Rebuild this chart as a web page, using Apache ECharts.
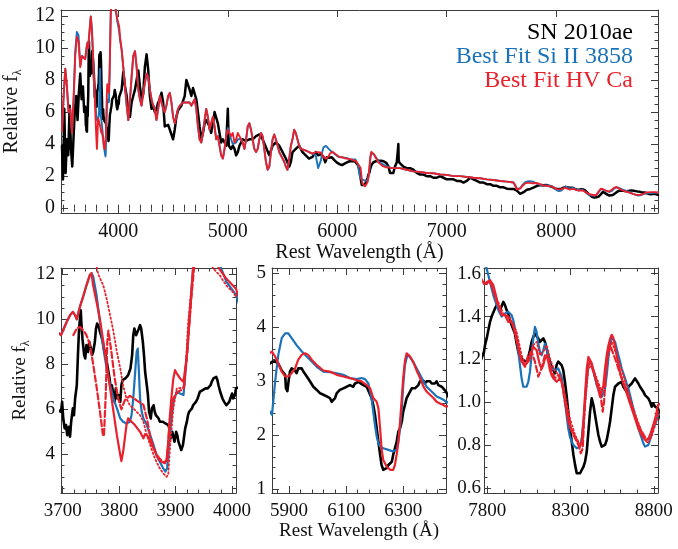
<!DOCTYPE html>
<html><head><meta charset="utf-8">
<script src="https://cdn.jsdelivr.net/npm/echarts@6/dist/echarts.min.js"></script>
<style>html,body{margin:0;padding:0;background:#fff}#c{width:678px;height:549px}</style>
</head><body><div id="c"></div>
<script>
// ---------- DATA (wavelength in Angstrom, relative flux) ----------
const snData = [
[3485,3.9],[3494,1.8],[3506,6.2],[3518,2.2],[3530,4.3],[3542,3.3],[3555,6.4],[3567,3.7],[3579,2.6],[3591,4.5],[3603,6.2],[3615,7.0],[3627,5.5],[3639,7.2],[3652,8.4],[3664,6.8],[3676,7.6],[3688,6.0],
[3697,5.89],[3699,6.33],[3701,5.59],[3703.5,5.15],[3706,5.3],[3708,4.85],[3711,5.22],[3713,4.78],[3715,5.45],[3718,6.04],[3720,5.74],[3722,6.48],[3725,7.07],[3727,8.41],[3729,9.59],[3732,10.4],[3733,9.88],[3735,9.14],[3738,8.41],[3740,8.26],[3742,8.85],[3745,8.55],[3747,9.0],[3750,8.7],[3752,8.41],[3754,8.55],[3757,9.0],[3759,9.59],[3761,9.81],[3764,9.66],[3766,9.44],[3768,9.29],[3771,9.0],[3773,8.7],[3776,8.41],[3778,8.11],[3780,7.81],[3783,7.37],[3785,6.93],[3787,7.07],[3790,6.63],[3792,6.33],[3794,6.93],[3797,6.48],[3799,6.63],[3802,6.33],[3804,7.07],[3806,7.3],[3809,7.3],[3811,7.37],[3813,7.44],[3816,7.52],[3818,7.67],[3820,7.81],[3823,8.41],[3825,9.29],[3827,9.59],[3830,9.29],[3832,9.37],[3835,9.59],[3837,9.74],[3839,9.59],[3842,9.0],[3844,8.41],[3846,7.67],[3849,7.07],[3851,6.63],[3853,5.89],[3856,5.59],[3858,6.04],[3861,6.18],[3863,5.89],[3865,5.74],[3868,5.74],[3870,5.59],[3872,5.45],[3875,5.5],[3877,5.45],[3879,5.37],[3882,5.37],[3884,5.37],[3887,5.3],[3889,5.15],[3891,4.71],[3894,5.0],[3896,4.78],[3898,4.56],[3901,5.0],[3903,4.85],[3905,4.56],[3908,4.49],[3910,4.19],[3913,4.41],[3915,4.78],[3917,5.15],[3920,5.45],[3922,5.74],[3924,5.89],[3927,5.89],[3929,6.04],[3931,6.18],[3934,6.18],[3936,6.33],[3939,6.48],[3941,6.63],[3943,6.78],[3946,6.78],[3948,6.85],[3950,6.85],[3953,6.93],[3955,6.85],[3957,6.93],[3960,7.0],[3962,7.07],[3964,7.22],[3967,7.37],[3969,7.44],[3972,7.44],[3974,7.3],[3976,7.07],[3979,6.78],[3981,6.78],[3983,6.48],[3986,6.33],[3988,6.25],[3990,6.18],[3993,6.1],[3995,6.33],[3997,6.48],[4000,6.7],[4002,6.48],[4005,6.63],[4007,6.93],
[4015,7.0],[4030,7.4],[4045,8.5],[4061,7.6],[4076,7.0],[4091,6.0],[4106,5.7],[4121,6.6],[4136,7.0],[4152,7.4],[4167,8.0],[4182,8.6],[4197,7.6],[4212,6.8],[4227,7.1],[4242,8.8],[4258,9.6],[4273,8.6],[4288,7.0],[4303,6.2],[4318,6.4],[4333,6.0],[4348,6.2],[4364,6.6],[4379,6.8],[4394,7.2],[4409,6.6],[4424,5.1],[4439,5.0],[4455,5.2],[4470,4.9],[4485,4.6],[4500,4.3],[4515,4.9],[4530,5.7],[4545,6.1],[4561,6.0],[4576,6.4],[4591,6.3],[4606,7.0],[4621,8.0],[4636,7.9],[4651,7.4],[4667,7.0],[4682,7.5],[4697,7.4],[4712,6.8],[4727,6.0],[4742,5.1],[4758,4.3],[4773,4.7],[4788,5.3],[4803,5.5],[4818,5.5],[4833,5.1],[4848,4.7],[4864,5.3],[4879,6.0],[4894,6.1],[4909,5.3],[4924,4.7],[4939,4.1],[4955,4.3],[4970,4.1],[4985,3.9],[5000,6.2],[5009,3.9],[5030,3.7],[5045,3.9],[5061,3.7],[5076,3.3],[5091,3.5],[5106,3.9],[5121,4.1],[5136,4.3],[5167,4.2],[5197,4.3],[5227,4.3],[5258,4.5],[5288,4.6],[5318,4.3],[5348,3.8],[5379,3.3],[5394,3.6],[5409,3.9],[5439,4.1],[5470,3.9],[5500,3.5],[5530,3.1],[5561,2.6],[5576,2.9],[5591,3.5],[5621,3.7],[5652,3.9],[5682,3.5],[5712,3.3],[5742,3.1],[5773,3.2],[5803,3.5],[5825,3.3],
[5840,3.36],[5851,3.37],[5862,3.33],[5868,3.3],[5874,3.2],[5880,3.2],[5886,3.12],[5889,2.87],[5894,2.82],[5898,3.0],[5903,3.18],[5909,3.24],[5915,3.24],[5921,3.2],[5926,3.15],[5932,3.24],[5938,3.27],[5944,3.24],[5950,3.18],[5962,3.09],[5973,3.0],[5985,2.9],[5997,2.84],[6008,2.78],[6020,2.75],[6032,2.72],[6043,2.69],[6049,2.62],[6055,2.62],[6061,2.69],[6067,2.78],[6078,2.84],[6090,2.87],[6102,2.9],[6113,2.93],[6125,2.9],[6131,2.96],[6137,2.93],[6143,2.99],[6149,2.96],[6160,2.93],[6172,2.9],[6178,2.93],[6189,2.69],[6195,2.56],[6201,2.38],[6207,2.13],[6213,1.88],[6219,1.64],[6224,1.45],[6230,1.36],[6236,1.33],[6242,1.39],[6248,1.45],[6254,1.48],[6260,1.51],[6265,1.64],[6271,1.76],[6277,1.88],[6283,2.07],[6289,2.13],[6295,2.25],[6300,2.44],[6306,2.56],[6312,2.69],[6318,2.75],[6324,2.81],[6330,2.87],[6335,2.88],[6341,2.87],[6347,2.9],[6353,2.93],[6359,3.0],[6365,3.02],[6371,3.01],[6376,2.96],[6382,3.0],[6388,3.01],[6394,3.0],[6400,2.96],[6406,2.93],[6411,2.96],[6417,3.0],[6423,2.93],[6429,2.9],[6435,2.9],[6441,2.87],[6450,2.81],
[6466,2.63],[6482,2.2],[6512,2.2],[6527,2.6],[6543,2.85],[6552,3.5],[6558,4.0],[6561,3.0],[6567,2.85],[6579,2.85],[6604,2.6],[6634,2.5],[6665,2.5],[6695,2.4],[6726,2.2],[6756,2.1],[6787,2.1],[6817,2.0],[6848,2.0],[6878,1.9],[6909,1.9],[6939,2.0],[6970,1.9],[7000,1.8],[7031,1.8],[7061,1.8],[7092,1.7],[7122,1.7],[7153,1.6],[7168,1.5],[7183,1.7],[7214,1.9],[7244,1.8],[7275,1.7],[7305,1.6],[7336,1.6],[7366,1.5],[7397,1.5],[7427,1.4],[7458,1.4],[7488,1.3],[7519,1.3],[7549,1.22],[7580,1.2],[7610,1.2],[7641,1.1],[7671,0.9],[7702,1.0],[7732,1.15],[7763,1.2],
[7780,1.236],[7786,1.267],[7796,1.298],[7806,1.336],[7816,1.375],[7826,1.40],[7836,1.40],[7846,1.437],[7856,1.453],[7866,1.445],[7876,1.43],[7886,1.437],[7896,1.468],[7906,1.453],[7916,1.43],[7926,1.414],[7936,1.383],[7946,1.36],[7956,1.352],[7966,1.32],[7976,1.274],[7986,1.236],[7996,1.212],[8006,1.205],[8016,1.197],[8026,1.197],[8036,1.19],[8046,1.212],[8056,1.243],[8066,1.282],[8076,1.305],[8086,1.32],[8096,1.313],[8106,1.298],[8116,1.282],[8126,1.274],[8136,1.298],[8146,1.282],[8156,1.251],[8166,1.22],[8176,1.19],[8186,1.166],[8196,1.158],[8206,1.135],[8216,1.174],[8226,1.19],[8236,1.182],[8246,1.174],[8256,1.15],[8266,1.096],[8276,1.034],[8286,0.957],[8296,0.879],[8307,0.817],[8317,0.755],[8327,0.709],[8337,0.67],[8347,0.662],[8357,0.67],[8367,0.685],[8377,0.70],[8387,0.724],[8397,0.77],[8407,0.864],[8417,0.957],[8427,1.019],[8437,0.988],[8447,0.941],[8457,0.894],[8467,0.848],[8477,0.817],[8487,0.794],[8497,0.794],[8507,0.802],[8517,0.825],[8527,0.864],[8537,0.91],[8547,0.972],[8557,1.034],[8567,1.073],[8577,1.08],[8587,1.088],[8597,1.08],[8607,1.096],[8617,1.073],[8627,1.065],[8637,1.05],[8647,1.073],[8657,1.065],[8667,1.088],[8677,1.096],[8687,1.112],[8697,1.104],[8707,1.088],[8717,1.073],[8727,1.065],[8737,1.05],[8747,1.034],[8757,1.034],[8767,1.019],[8777,1.003],[8787,0.98],[8797,0.995],[8807,0.98],[8817,0.988],[8825,0.972],
[8860,0.87],[8900,0.9],[8930,0.83]
];

const siFit = [
[3485,4.8],[3500,7.0],[3515,8.7],[3530,7.6],[3545,6.0],[3561,6.2],[3576,4.7],[3591,6.8],[3606,9.8],[3621,11.0],[3636,10.8],[3652,8.9],[3667,9.5],[3682,9.6],
[3697,9.3],[3707,9.88],[3713,10.18],[3718,10.33],[3722,10.18],[3725,10.0],[3731,10.6],[3737,11.07],[3742,11.5],[3748,11.96],[3751,12.05],[3754,11.9],[3760,11.07],[3766,9.88],[3772,8.7],[3778,7.81],[3784,7.07],[3790,6.48],[3796,6.04],[3802,5.59],[3807,5.45],[3813,5.37],[3819,5.45],[3822,5.74],[3825,6.48],[3828,7.52],[3831,8.55],[3833,8.7],[3835,7.67],[3837,6.48],[3840,5.89],[3843,5.59],[3849,5.3],[3855,4.85],[3861,4.41],[3866,3.97],[3872,3.67],[3878,3.38],[3882,3.23],[3885,3.38],[3890,5.0],[3896,6.33],[3902,6.78],[3908,6.7],[3914,6.63],[3917,6.7],[3920,8.41],[3926,10.6],[3931,12.25],[3937,13.0],[3967,13.0],[3981,12.25],[3990,11.66],[3999,11.36],[4007,11.07],
[4015,10.5],[4030,9.9],[4045,8.8],[4061,7.6],[4076,6.4],[4091,5.5],[4106,6.8],[4121,8.2],[4136,9.5],[4152,9.8],[4167,8.8],[4182,7.4],[4197,6.8],[4212,6.4],[4227,7.2],[4242,7.8],[4258,8.4],[4273,8.2],[4288,7.4],[4303,6.8],[4318,6.4],[4333,6.2],[4348,5.5],[4364,6.2],[4379,7.0],[4394,6.6],[4409,6.2],[4424,6.0],[4439,6.4],[4455,7.0],[4470,7.2],[4485,6.6],[4500,5.7],[4515,5.3],[4530,5.7],[4545,6.2],[4561,6.4],[4591,6.6],[4621,6.6],[4636,6.7],[4651,6.6],[4667,6.4],[4682,6.6],[4697,6.8],[4712,6.2],[4727,5.1],[4742,4.3],[4758,4.1],[4773,4.7],[4788,5.5],[4803,6.2],[4818,5.7],[4833,4.9],[4848,5.3],[4864,5.7],[4879,5.1],[4894,4.3],[4909,4.5],[4924,3.9],[4939,3.3],[4955,3.1],[4970,3.7],[4985,4.5],[5000,5.0],[5015,4.9],[5030,4.3],[5045,4.0],[5061,3.9],[5076,4.1],[5091,4.3],[5106,4.4],[5121,4.3],[5136,4.1],[5152,3.7],[5167,4.3],[5182,5.1],[5197,5.3],[5212,4.9],[5227,4.3],[5242,3.7],[5258,3.5],[5273,3.7],[5288,4.3],[5303,4.7],[5318,4.5],[5333,3.7],[5348,2.9],[5364,2.4],[5379,2.6],[5394,3.5],[5409,4.3],[5424,4.6],[5439,4.3],[5455,3.9],[5470,3.5],[5485,3.3],[5500,3.1],[5515,2.9],[5530,2.6],[5545,2.4],[5561,3.1],[5576,3.9],[5591,4.3],[5606,4.9],[5621,4.7],[5636,4.3],[5652,3.9],[5667,3.7],[5682,3.6],[5712,3.6],[5742,3.5],[5773,3.4],[5803,3.3],[5825,2.5],
[5840,2.38],[5851,3.0],[5862,3.49],[5874,3.8],[5886,3.89],[5891,3.92],[5897,3.89],[5909,3.8],[5926,3.67],[5950,3.52],[5973,3.4],[5997,3.27],[6020,3.18],[6043,3.17],[6067,3.15],[6090,3.12],[6113,3.06],[6137,3.04],[6154,3.06],[6166,3.04],[6178,2.96],[6189,2.69],[6195,2.44],[6201,2.19],[6207,1.98],[6213,1.85],[6219,1.79],[6230,1.76],[6248,1.73],[6265,1.7],[6277,1.73],[6283,1.88],[6289,2.13],[6295,2.5],[6300,2.93],[6306,3.3],[6312,3.43],[6318,3.49],[6324,3.46],[6335,3.36],[6347,3.24],[6359,3.12],[6371,3.0],[6382,2.9],[6394,2.84],[6406,2.78],[6417,2.72],[6429,2.69],[6441,2.66],[6450,2.62],
[6466,2.6],[6497,2.5],[6527,2.5],[6573,2.5],[6634,2.4],[6695,2.3],[6756,2.26],[6817,2.2],[6878,2.18],[6939,2.1],[7000,2.08],[7061,2.0],[7122,2.0],[7183,1.95],[7244,1.9],[7305,1.87],[7366,1.8],[7427,1.76],[7488,1.7],[7549,1.66],[7610,1.6],[7625,1.45],[7641,1.2],[7656,1.2],[7671,1.25],[7686,1.4],[7717,1.62],[7747,1.68],
[7780,1.67],[7796,1.623],[7806,1.592],[7816,1.561],[7826,1.53],[7836,1.50],[7846,1.476],[7856,1.453],[7866,1.43],[7876,1.414],[7886,1.40],[7896,1.406],[7906,1.414],[7916,1.422],[7926,1.422],[7936,1.414],[7946,1.406],[7956,1.383],[7966,1.344],[7976,1.298],[7986,1.236],[7996,1.174],[8006,1.112],[8016,1.073],[8026,1.065],[8036,1.073],[8046,1.096],[8056,1.143],[8066,1.22],[8076,1.298],[8086,1.352],[8096,1.329],[8106,1.274],[8116,1.236],[8126,1.22],[8136,1.243],[8146,1.274],[8156,1.267],[8166,1.22],[8176,1.174],[8186,1.158],[8196,1.158],[8206,1.15],[8216,1.15],[8226,1.158],[8236,1.15],[8246,1.12],[8256,1.065],[8266,1.003],[8276,0.941],[8286,0.879],[8296,0.84],[8307,0.817],[8317,0.802],[8327,0.794],[8337,0.786],[8347,0.786],[8357,0.794],[8367,0.833],[8377,0.91],[8387,1.003],[8397,1.096],[8407,1.174],[8417,1.19],[8427,1.174],[8437,1.143],[8447,1.112],[8457,1.08],[8467,1.065],[8477,1.05],[8487,1.026],[8497,1.034],[8507,1.065],[8517,1.127],[8527,1.205],[8537,1.267],[8547,1.305],[8557,1.298],[8567,1.282],[8577,1.251],[8587,1.22],[8597,1.19],[8607,1.158],[8617,1.135],[8627,1.112],[8637,1.088],[8647,1.065],[8657,1.034],[8667,1.003],[8677,0.972],[8687,0.941],[8697,0.91],[8707,0.879],[8717,0.856],[8727,0.833],[8737,0.81],[8747,0.794],[8753,0.786],[8767,0.802],[8777,0.825],[8797,0.879],[8813,0.91],[8825,0.941],
[8860,0.95],[8900,0.97],[8930,0.95]
];

const caFit = [
[3485,4.8],[3500,7.0],[3515,8.7],[3530,7.6],[3545,6.0],[3561,6.2],[3576,4.7],[3591,6.8],[3606,9.5],[3621,10.7],[3636,10.4],[3652,8.8],[3667,9.5],[3682,9.6],
[3697,9.3],[3707,9.88],[3713,10.18],[3718,10.33],[3722,10.18],[3725,10.0],[3731,10.6],[3737,11.07],[3742,11.5],[3748,11.96],[3751,12.05],[3754,11.5],[3760,10.77],[3766,10.0],[3772,9.0],[3778,7.96],[3784,6.93],[3790,5.89],[3796,4.85],[3802,3.97],[3804,3.7],[3807,4.1],[3813,5.3],[3816,5.6],[3822,5.45],[3828,5.3],[3837,5.0],[3843,4.71],[3846,4.9],[3852,4.78],[3858,4.41],[3864,4.11],[3869,3.82],[3875,3.67],[3881,3.6],[3884,3.75],[3887,4.56],[3890,5.74],[3893,6.63],[3896,7.37],[3899,7.74],[3902,7.6],[3908,7.37],[3914,7.22],[3917,7.15],[3920,8.41],[3926,10.48],[3931,12.3],[3937,13.0],[3967,13.0],[3976,12.3],[3990,11.8],[4007,11.36],
[4015,10.7],[4030,9.9],[4045,8.8],[4061,7.6],[4076,6.4],[4091,5.5],[4106,6.8],[4121,8.2],[4136,9.5],[4152,9.8],[4167,8.8],[4182,7.4],[4197,6.8],[4212,6.4],[4227,7.2],[4242,7.8],[4258,8.4],[4273,8.2],[4288,7.4],[4303,6.8],[4318,6.4],[4333,6.2],[4348,5.5],[4364,6.2],[4379,7.0],[4394,6.6],[4409,6.2],[4424,6.0],[4439,6.4],[4455,7.0],[4470,7.2],[4485,6.6],[4500,5.7],[4515,5.3],[4530,5.7],[4545,6.2],[4561,6.4],[4591,6.6],[4621,6.6],[4636,6.7],[4651,6.6],[4667,6.4],[4682,6.6],[4697,6.8],[4712,6.2],[4727,5.1],[4742,4.3],[4758,4.1],[4773,4.7],[4788,5.5],[4803,6.2],[4818,5.7],[4833,4.9],[4848,5.3],[4864,5.7],[4879,5.1],[4894,4.3],[4909,4.5],[4924,3.9],[4939,3.3],[4955,3.1],[4970,3.7],[4985,4.5],[5000,4.9],[5015,4.7],[5030,4.5],[5045,4.7],[5061,4.1],[5076,4.3],[5091,4.7],[5106,4.5],[5121,4.3],[5136,4.1],[5152,3.7],[5167,4.3],[5182,5.1],[5197,5.3],[5212,4.9],[5227,4.3],[5242,3.7],[5258,3.5],[5273,3.7],[5288,4.3],[5303,4.7],[5318,4.5],[5333,3.7],[5348,2.9],[5364,2.4],[5379,2.6],[5394,3.5],[5409,4.3],[5424,4.6],[5439,4.3],[5455,3.9],[5470,3.5],[5485,3.3],[5500,3.1],[5515,2.9],[5530,2.6],[5545,2.4],[5561,3.1],[5576,3.9],[5591,4.3],[5606,4.9],[5621,4.7],[5636,4.3],[5652,3.9],[5667,3.7],[5682,3.6],[5712,3.6],[5742,3.5],[5773,3.4],[5803,3.5],[5825,3.5],
[5840,3.55],[5851,3.46],[5862,3.33],[5874,3.18],[5886,3.09],[5897,3.09],[5909,3.15],[5921,3.24],[5932,3.4],[5944,3.49],[5956,3.52],[5967,3.49],[5979,3.4],[5997,3.3],[6020,3.2],[6043,3.18],[6067,3.12],[6090,3.09],[6113,3.06],[6137,3.02],[6154,3.0],[6172,2.93],[6184,2.87],[6195,2.69],[6207,2.62],[6213,2.5],[6219,2.13],[6224,1.76],[6230,1.54],[6242,1.42],[6254,1.36],[6265,1.36],[6271,1.45],[6277,1.64],[6283,1.88],[6289,2.25],[6295,2.69],[6300,3.06],[6306,3.37],[6312,3.52],[6318,3.52],[6324,3.46],[6335,3.36],[6347,3.2],[6359,3.06],[6371,2.9],[6382,2.81],[6394,2.75],[6406,2.69],[6417,2.62],[6429,2.59],[6441,2.56],[6450,2.53],
[6466,2.55],[6497,2.5],[6527,2.5],[6573,2.5],[6634,2.4],[6695,2.3],[6756,2.26],[6817,2.2],[6878,2.18],[6939,2.1],[7000,2.08],[7061,2.0],[7122,2.0],[7183,1.95],[7244,1.9],[7305,1.87],[7366,1.8],[7427,1.76],[7488,1.7],[7549,1.66],[7610,1.6],[7625,1.4],[7641,1.18],[7656,1.18],[7671,1.22],[7686,1.35],[7717,1.55],[7747,1.6],
[7780,1.553],[7796,1.553],[7806,1.561],[7816,1.569],[7826,1.569],[7836,1.546],[7846,1.515],[7856,1.484],[7866,1.453],[7876,1.43],[7886,1.406],[7896,1.40],[7906,1.406],[7916,1.40],[7926,1.375],[7936,1.367],[7946,1.375],[7956,1.352],[7966,1.329],[7976,1.298],[7986,1.267],[7996,1.22],[8006,1.19],[8016,1.182],[8026,1.174],[8036,1.182],[8046,1.19],[8056,1.205],[8066,1.236],[8076,1.259],[8086,1.267],[8096,1.243],[8106,1.205],[8116,1.174],[8126,1.158],[8136,1.174],[8146,1.205],[8156,1.22],[8166,1.19],[8176,1.15],[8186,1.127],[8196,1.112],[8206,1.104],[8216,1.096],[8226,1.104],[8236,1.112],[8246,1.096],[8256,1.065],[8266,1.019],[8276,0.972],[8286,0.926],[8296,0.895],[8307,0.871],[8317,0.856],[8327,0.84],[8337,0.825],[8347,0.81],[8357,0.794],[8367,0.817],[8377,0.91],[8387,1.034],[8397,1.158],[8407,1.212],[8417,1.205],[8427,1.182],[8437,1.15],[8447,1.12],[8457,1.088],[8467,1.057],[8477,1.026],[8487,1.034],[8497,1.08],[8507,1.158],[8517,1.22],[8527,1.265],[8537,1.295],[8547,1.315],[8557,1.3],[8567,1.26],[8577,1.22],[8587,1.175],[8597,1.14],[8607,1.112],[8617,1.088],[8627,1.065],[8637,1.042],[8647,1.019],[8657,0.995],[8667,0.972],[8677,0.949],[8687,0.926],[8697,0.902],[8707,0.879],[8717,0.864],[8727,0.848],[8737,0.836],[8747,0.825],[8757,0.817],[8767,0.83],[8777,0.848],[8797,0.895],[8813,0.941],[8825,0.988],
[8860,1.0],[8900,1.0],[8930,0.98]
];

const caDashLeft = [[3719,9.3],[3725,9.6],[3731,9.66],[3737,9.5],[3742,9.3],[3748,8.9],[3754,8.0],[3760,7.0],[3766,5.9],[3771,4.9],[3773,4.8],[3776,6.5],[3779,9.0],[3781,9.5],[3786,8.6],[3792,7.4],[3798,6.5],[3804,6.0],[3810,6.4],[3819,6.6],[3825,6.5],[3831,6.4],[3837,6.3],[3843,6.2],[3849,5.6],[3855,4.8],[3861,4.3],[3866,4.0],[3872,3.8],[3878,3.65],[3884,3.7],[3887,4.5],[3890,5.6],[3896,6.5],[3905,6.8],[3914,6.9],[3920,8.3],[3928,11.0],[3934,12.6]];
const caDotLeft = [[3755,13.0],[3763,12.0],[3766,11.96],[3772,11.5],[3778,10.9],[3784,10.18],[3790,9.44],[3796,8.55],[3802,7.81],[3807,7.07],[3813,6.48],[3819,6.18],[3825,6.04],[3831,5.89],[3837,5.74],[3843,5.45],[3849,4.85],[3855,4.41],[3861,3.97],[3866,3.67],[3872,3.38],[3878,3.15],[3884,3.0],[3887,3.1],[3890,4.26],[3896,6.04],[3902,6.93],[3910,6.95],[3916,7.0],[3922,9.8],[3931,12.2],[3937,12.6],[3960,12.6],[3967,12.25],[3978,11.96],[3990,11.5],[4002,11.2],[4007,11.0]];
const caDashRight = [[7780,1.553],[7816,1.569],[7856,1.468],[7886,1.414],[7926,1.40],[7956,1.36],[7986,1.251],[8006,1.19],[8026,1.166],[8046,1.22],[8066,1.236],[8086,1.19],[8100,1.143],[8106,1.12],[8126,1.158],[8146,1.22],[8166,1.205],[8186,1.143],[8206,1.112],[8226,1.127],[8246,1.096],[8266,1.003],[8286,0.91],[8307,0.864],[8327,0.833],[8347,0.802],[8361,0.763],[8373,0.786],[8387,1.019],[8401,1.158],[8417,1.19],[8437,1.143],[8457,1.096],[8477,1.05],[8493,0.957],[8501,1.003],[8517,1.19],[8537,1.267],[8547,1.274],[8567,1.205],[8597,1.135],[8637,1.05],[8677,0.957],[8717,0.879],[8757,0.825],[8777,0.84],[8807,0.91],[8825,0.957]];
const caDotRight = [[7780,1.553],[7816,1.561],[7856,1.484],[7896,1.414],[7936,1.39],[7976,1.329],[8006,1.22],[8026,1.174],[8046,1.19],[8076,1.267],[8096,1.282],[8116,1.22],[8136,1.236],[8156,1.267],[8176,1.205],[8206,1.143],[8236,1.127],[8266,1.034],[8296,0.926],[8327,0.848],[8357,0.802],[8373,0.817],[8387,0.988],[8407,1.158],[8427,1.174],[8457,1.112],[8487,1.05],[8507,1.096],[8527,1.236],[8547,1.282],[8577,1.22],[8617,1.127],[8657,1.019],[8697,0.926],[8737,0.84],[8761,0.81],[8787,0.84],[8825,0.941]];

// tick labels per panel: top, bottom-left, bottom-middle, bottom-right
const xTickLabels = [[4000,5000,6000,7000,8000],[3700,3800,3900,4000],[5900,6100,6300],[7800,8300,8800]];
const yTickLabels = [[0,2,4,6,8,10,12],[4,6,8,10,12],[1,2,3,4,5],[0.6,0.8,1.0,1.2,1.4,1.6]];
const xRanges = [[3476,8930],[3697,4007],[5840,6450],[7780,8825]];
const yRanges = [[-0.3,12.37],[2.28,12.28],[0.93,5.1],[0.578,1.626]];
const xMinorStep = [100,20,40,100];
const yMinorStep = [0.5,0.5,0.2,0.05];
const yDecimals = [0,0,0,1];

// ---------- LAYOUT / STYLE ----------
const grids = [
  {left:61, top:10, width:597, height:203},
  {left:61, top:268, width:175, height:225},
  {left:272, top:268, width:174, height:225},
  {left:484, top:268, width:174, height:225}
];
const serif = '"Liberation Serif", "DejaVu Serif", serif';
const frame = '#3c3c3c';
const BLACK = '#000000', BLUE = '#1b72b8', RED = '#e8222c';
const fs = [20, 19, 19, 19];
const yMargin = [6, 6, 6, 3];

function minorValues(lo, hi, anchor, step) {
  const out = [];
  let k = Math.ceil((lo - anchor) / step - 1e-9);
  for (;; k++) {
    const v = +(anchor + k * step).toFixed(6);
    if (v > hi + 1e-9) break;
    out.push(v);
  }
  return out;
}

const xAxes = [], yAxes = [];
const lambdaName = '{a|Relative f}{b|λ}';
for (let g = 0; g < 4; g++) {
  const [xl, xh] = xRanges[g], [yl, yh] = yRanges[g];
  const xMin = minorValues(xl, xh, xTickLabels[g][0], xMinorStep[g]);
  const yMin = minorValues(yl, yh, yTickLabels[g][0], yMinorStep[g]);
  const bx = {type:'value', gridIndex:g, min:xl, max:xh, splitLine:{show:false}, splitArea:{show:false}, silent:true};
  const by = {type:'value', gridIndex:g, min:yl, max:yh, splitLine:{show:false}, splitArea:{show:false}, silent:true};
  const line = {show:true, onZero:false, lineStyle:{color:frame, width:1}};
  const tickMaj = (vals) => ({show:true, inside:true, length:7, customValues:vals, lineStyle:{color:frame, width:1}});
  const tickMin = (vals) => ({show:true, inside:true, length:3.5, customValues:vals, lineStyle:{color:frame, width:1}});
  const showXName = (g === 0 || g === 2);
  xAxes.push(
    Object.assign({}, bx, {position:'bottom', axisLine:line, axisTick:tickMaj(xTickLabels[g]),
      axisLabel:{show:true, customValues:xTickLabels[g], margin:9, fontFamily:serif, fontSize:fs[g], color:'#111', formatter:(v)=>String(Math.round(v))},
      name: showXName ? 'Rest Wavelength (Å)' : '', nameLocation:'middle', nameGap: g===0 ? 25 : 29,
      nameTextStyle:{fontFamily:serif, fontSize:fs[g], color:'#111'}}),
    Object.assign({}, bx, {position:'bottom', axisLine:{show:false}, axisTick:tickMin(xMin), axisLabel:{show:false}}),
    Object.assign({}, bx, {position:'top', axisLine:line, axisTick:tickMaj(xTickLabels[g]), axisLabel:{show:false}}),
    Object.assign({}, bx, {position:'top', axisLine:{show:false}, axisTick:tickMin(xMin), axisLabel:{show:false}})
  );
  const showYName = (g === 0 || g === 1);
  const dec = yDecimals[g];
  yAxes.push(
    Object.assign({}, by, {position:'left', axisLine:line, axisTick:tickMaj(yTickLabels[g]),
      axisLabel:{show:true, customValues:yTickLabels[g], margin:yMargin[g], fontFamily:serif, fontSize:fs[g], color:'#111', formatter:(v)=>v.toFixed(dec)},
      name: showYName ? lambdaName : '', nameLocation:'middle', nameGap: 25,
      nameTextStyle:{fontFamily:serif, color:'#111', rich:{
        a:{fontFamily:serif, fontSize:fs[g], color:'#111', lineHeight:24, verticalAlign:'middle'},
        b:{fontFamily:serif, fontSize:Math.round(fs[g]*0.62), color:'#111', lineHeight:24, verticalAlign:'bottom'}}}}),
    Object.assign({}, by, {position:'left', axisLine:{show:false}, axisTick:tickMin(yMin), axisLabel:{show:false}}),
    Object.assign({}, by, {position:'right', axisLine:line, axisTick:tickMaj(yTickLabels[g]), axisLabel:{show:false}}),
    Object.assign({}, by, {position:'right', axisLine:{show:false}, axisTick:tickMin(yMin), axisLabel:{show:false}})
  );
}

function spec(name, data, g, color, width, dash, z) {
  return {type:'line', name, data, xAxisIndex:4*g, yAxisIndex:4*g, showSymbol:false, symbol:'none',
    clip:true, animation:false, silent:true, z,
    lineStyle:{color, width, type:dash || 'solid', join:'round', cap:'round'}, itemStyle:{color},
    emphasis:{disabled:true}};
}

const NAME_SN = 'SN 2010ae', NAME_SI = 'Best Fit Si II 3858', NAME_CA = 'Best Fit HV Ca';
const series = [];
for (let g = 0; g < 4; g++) {
  const wb = g === 0 ? 2.5 : 2.6, wc = g === 0 ? 1.9 : 2.2;
  series.push(spec(NAME_SN, snData, g, BLACK, wb, null, 2));
  series.push(spec(NAME_SI, siFit, g, BLUE, wc, null, 3));
  if (g === 1) {
    series.push(spec('HV Ca (dashed)', caDashLeft, g, RED, 2.2, [6,3], 4));
    series.push(spec('HV Ca (dotted)', caDotLeft, g, RED, 1.8, [1.5,2.5], 4));
  }
  if (g === 3) {
    series.push(spec('HV Ca (dashed)', caDashRight, g, RED, 2.2, [6,3], 4));
    series.push(spec('HV Ca (dotted)', caDotRight, g, RED, 1.8, [1.5,2.5], 4));
  }
  series.push(spec(NAME_CA, caFit, g, RED, wc, null, 5));
}

const chart = echarts.init(document.getElementById('c'), null, {renderer:'canvas', width:678, height:549});
chart.setOption({
  backgroundColor:'#ffffff',
  animation:false,
  textStyle:{fontFamily:serif},
  grid: grids.map(r => Object.assign({outerBoundsMode:'none', containLabel:false, show:false}, r)),
  xAxis: xAxes,
  yAxis: yAxes,
  legend: {
    orient:'vertical', right:40, top:21, padding:0, itemGap:0, itemWidth:0, itemHeight:1,
    icon:'none', align:'right', selectedMode:false,
    textStyle:{fontFamily:serif, fontSize:24, lineHeight:23.5},
    data:[
      {name:NAME_SN, textStyle:{color:BLACK, fontFamily:serif}},
      {name:NAME_SI, textStyle:{color:BLUE, fontFamily:serif}},
      {name:NAME_CA, textStyle:{color:RED, fontFamily:serif}}
    ]
  },
  series
});
</script>
</body></html>
